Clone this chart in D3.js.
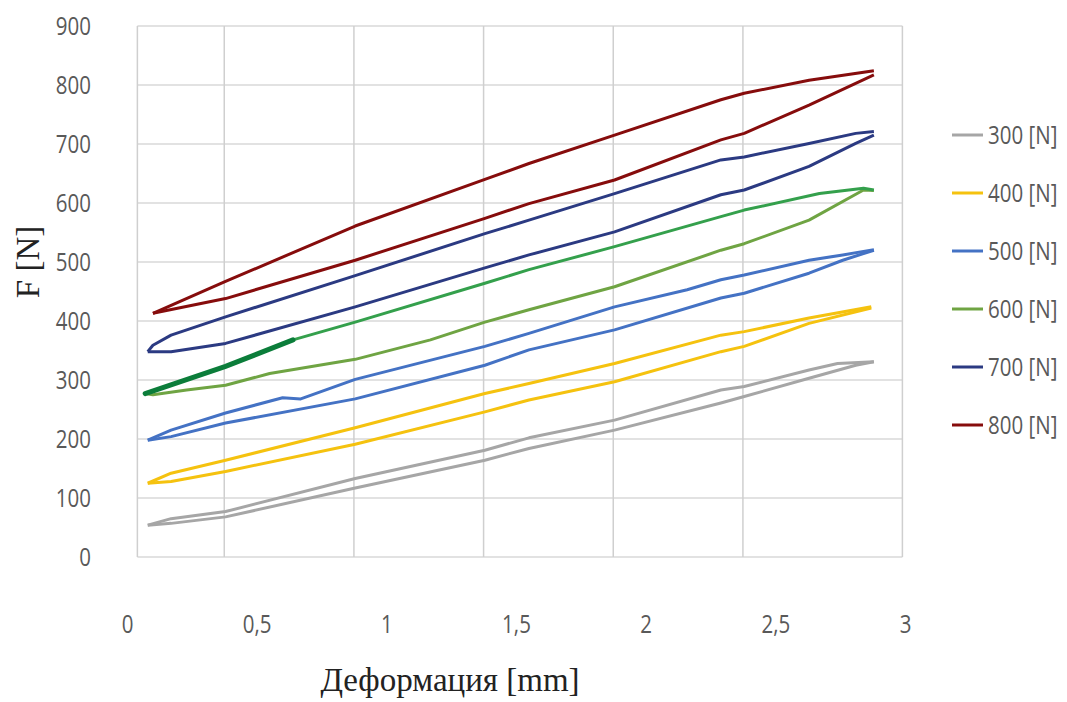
<!DOCTYPE html>
<html>

<head>
    <meta charset="utf-8">
    <style>
        body {
            margin: 0;
            background: #ffffff;
        }

        svg {
            display: block;
        }

        .axis text,
        .legend text {
            font-family: 'Open Sans', sans-serif;
            font-size: 25px;
            fill: #595959;
        }

        .title {
            font-family: 'Liberation Serif', 'Times New Roman', serif;
            font-size: 33px;
            fill: #222222;
        }
    </style>
</head>

<body>
    <svg width="1067" height="702"></svg>
</body>

<script src="https://d3js.org/d3.v7.min.js"></script>

<script>
    let width = 1067;
    let height = 702;

    // tick labels
    let xTicks = [0, 0.5, 1, 1.5, 2, 2.5, 3];
    let xTickLabels = ["0", "0,5", "1", "1,5", "2", "2,5", "3"];
    let yTicks = [0, 100, 200, 300, 400, 500, 600, 700, 800, 900];

    // plot frame and vertical grid (the grid is shifted against the labels in the original)
    let frameDeformation = [0.04, 2.99];
    let gridDeformation = [0.375, 0.875, 1.375, 1.875, 2.375];

    let seriesNames = ["300 [N]", "400 [N]", "500 [N]", "600 [N]", "700 [N]", "800 [N]"];

    // loops: [deformation mm, force N]
    // "up" = upper branch left->right, "down" = lower branch right->left
    let up300 = [[0.08, 54], [0.17, 65], [0.38, 77], [0.88, 133], [1.38, 181], [1.55, 202], [1.88, 232], [2.29, 283], [2.38, 289], [2.63, 317], [2.74, 328], [2.88, 331]];
    let down300 = [[2.88, 331], [2.81, 325], [2.63, 303], [2.38, 272], [2.29, 261], [1.88, 215], [1.55, 184], [1.38, 164], [0.88, 117], [0.38, 68], [0.17, 57], [0.08, 54]];

    let up400 = [[0.08, 125], [0.17, 142], [0.38, 164], [0.88, 219], [1.38, 277], [1.55, 294], [1.88, 328], [2.29, 376], [2.38, 382], [2.63, 405], [2.87, 424]];
    let down400 = [[2.87, 422], [2.63, 396], [2.38, 357], [2.29, 348], [1.88, 297], [1.55, 266], [1.38, 246], [0.88, 191], [0.38, 145], [0.17, 128], [0.08, 125]];

    let up500 = [[0.08, 198], [0.17, 215], [0.38, 244], [0.60, 270], [0.67, 268], [0.88, 301], [1.38, 357], [1.55, 379], [1.88, 424], [2.16, 453], [2.29, 470], [2.38, 478], [2.63, 503], [2.76, 512], [2.88, 521]];
    let down500 = [[2.88, 520], [2.76, 503], [2.63, 481], [2.38, 447], [2.29, 439], [1.88, 385], [1.55, 351], [1.38, 325], [0.88, 268], [0.38, 227], [0.17, 204], [0.08, 198]];

    let up600 = [[0.07, 277], [0.38, 323], [0.64, 368], [0.88, 398], [1.38, 464], [1.55, 487], [1.88, 526], [2.29, 577], [2.38, 588], [2.67, 616], [2.84, 625], [2.88, 622]];
    let down600 = [[2.88, 621], [2.84, 622], [2.63, 571], [2.38, 531], [2.29, 520], [1.88, 458], [1.55, 419], [1.38, 398], [1.17, 368], [0.88, 335], [0.55, 311], [0.38, 291], [0.23, 283], [0.10, 275], [0.07, 277]];
    let boldEnd600 = 0.64; // thick dark green start of the 600 loop

    let up700 = [[0.08, 348], [0.10, 359], [0.17, 376], [0.38, 407], [0.88, 477], [1.38, 548], [1.55, 571], [1.88, 616], [2.29, 673], [2.38, 678], [2.63, 701], [2.81, 718], [2.88, 721]];
    let down700 = [[2.88, 715], [2.81, 701], [2.63, 662], [2.38, 622], [2.29, 614], [1.88, 551], [1.55, 512], [1.38, 490], [0.88, 424], [0.38, 362], [0.17, 348], [0.08, 348]];

    let up800 = [[0.10, 413], [0.38, 467], [0.88, 561], [1.38, 640], [1.55, 667], [1.88, 715], [2.29, 775], [2.38, 786], [2.63, 808], [2.88, 824]];
    let down800 = [[2.88, 817], [2.63, 766], [2.38, 718], [2.29, 707], [1.88, 639], [1.55, 599], [1.38, 574], [0.88, 503], [0.38, 438], [0.10, 413]];

    let colors = ["#a6a6a6", "#f5c20f", "#4472c4", "#6fa443", "#2b3a82", "#860c0c"];
    let upColors = ["#a6a6a6", "#f5c20f", "#4472c4", "#34a04c", "#2b3a82", "#860c0c"];

    let series = [
        { name: seriesNames[0], up: up300, down: down300 },
        { name: seriesNames[1], up: up400, down: down400 },
        { name: seriesNames[2], up: up500, down: down500 },
        { name: seriesNames[3], up: up600, down: down600 },
        { name: seriesNames[4], up: up700, down: down700 },
        { name: seriesNames[5], up: up800, down: down800 }
    ];

    let svg = d3.select("svg");

    let x = d3.scaleLinear()
        .domain([0, 3])
        .range([127, 905]);

    let y = d3.scaleLinear()
        .domain([0, 900])
        .range([557, 26]);

    let squeeze = "scale(0.82,1)"; // the source picture is horizontally condensed

    // grid
    let grid = svg.append("g").attr("class", "grid");

    grid.selectAll(".hgrid")
        .data(yTicks)
        .enter().append("line")
        .attr("x1", x(frameDeformation[0]))
        .attr("x2", x(frameDeformation[1]))
        .attr("y1", d => y(d))
        .attr("y2", d => y(d))
        .style("stroke", "#d9d9d9")
        .style("stroke-width", "1.5px");

    grid.selectAll(".vgrid")
        .data(gridDeformation.concat(frameDeformation))
        .enter().append("line")
        .attr("x1", d => x(d))
        .attr("x2", d => x(d))
        .attr("y1", y(0))
        .attr("y2", y(900))
        .style("stroke", "#cfcfcf")
        .style("stroke-width", "1.5px");

    // axes (labels only)
    let yAxis = svg.append("g")
        .attr("class", "axis")
        .attr("transform", "translate(91,0)")
        .call(d3.axisLeft(y).tickValues(yTicks).tickSize(0).tickPadding(0));

    let xAxis = svg.append("g")
        .attr("class", "axis")
        .attr("transform", "translate(0,557)")
        .call(d3.axisBottom(x).tickValues(xTicks).tickSize(0).tickPadding(0)
            .tickFormat((d, i) => xTickLabels[i]));

    svg.selectAll(".axis .domain").remove();
    svg.selectAll(".axis text").attr("transform", squeeze);
    xAxis.selectAll("text").attr("dy", null).attr("y", 76);

    // loops
    let line = d3.line()
        .x(d => x(d[0]))
        .y(d => y(d[1]));

    let loops = svg.append("g").attr("class", "loops");

    series.forEach(function (s, i) {
        loops.append("path")
            .attr("d", line(s.down))
            .style("fill", "none")
            .style("stroke", colors[i])
            .style("stroke-width", "3px")
            .style("stroke-linejoin", "round");

        loops.append("path")
            .attr("d", line(s.up))
            .style("fill", "none")
            .style("stroke", upColors[i])
            .style("stroke-width", "3px")
            .style("stroke-linejoin", "round");
    });

    loops.append("path")
        .attr("d", line(up600.filter(d => d[0] <= boldEnd600)))
        .style("fill", "none")
        .style("stroke", "#0b7d3a")
        .style("stroke-width", "5px")
        .style("stroke-linecap", "round");

    // legend
    let legend = svg.append("g")
        .attr("class", "legend")
        .attr("transform", "translate(952,135)");

    let rows = legend.selectAll(".row")
        .data(series)
        .enter().append("g")
        .attr("transform", (d, i) => `translate(0,${i * 58})`);

    rows.append("line")
        .attr("x1", 0)
        .attr("x2", 31)
        .style("stroke", (d, i) => colors[i])
        .style("stroke-width", "3px");

    rows.append("text")
        .attr("transform", "translate(36,0) " + squeeze)
        .attr("dy", "0.35em")
        .text(d => d.name);

    // titles
    svg.append("text")
        .attr("class", "title")
        .attr("x", 450)
        .attr("y", 691)
        .style("text-anchor", "middle")
        .text("Деформация [mm]");

    svg.append("text")
        .attr("class", "title")
        .attr("transform", "translate(39,262) rotate(-90)")
        .style("text-anchor", "middle")
        .text("F [N]");
</script>

</html>
